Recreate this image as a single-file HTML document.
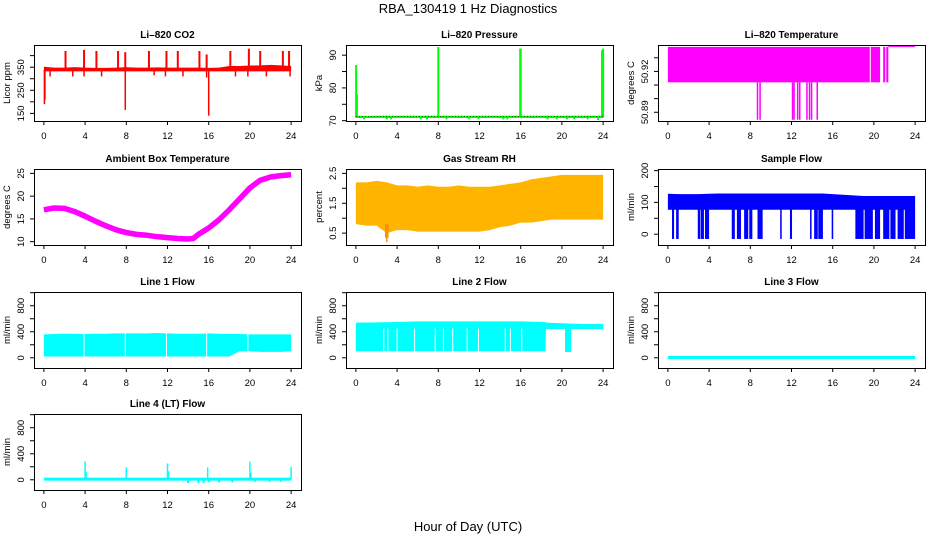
<!DOCTYPE html>
<html><head><meta charset="utf-8">
<style>
html,body{margin:0;padding:0;background:#fff;}
svg{display:block;font-family:"Liberation Sans",Arial,sans-serif;}
.t{font-size:10px;font-weight:bold;text-anchor:middle;}
.tk{font-size:9.5px;text-anchor:middle;}
.yl{font-size:9.5px;text-anchor:middle;}
</style></head>
<body>
<svg id="chart" width="936" height="540" viewBox="0 0 936 540">
<text x="468" y="13" font-size="13" text-anchor="middle">RBA_130419  1 Hz Diagnostics</text>
<text x="468" y="531" font-size="13" text-anchor="middle">Hour of Day (UTC)</text>
<g id="panels"></g>
</svg>
<script>
// ---------- data ----------
const xTicks = [0,4,8,12,16,20,24];
const hours = [0,1,2,3,4,5,6,7,8,9,10,11,12,13,14,15,16,17,18,19,20,21,22,23,24];

const co2Upper = [352,348,348,350,348,347,347,348,350,348,348,349,348,348,348,348,347,348,355,355,357,358,360,358,355];
const co2Lower = [332,332,332,332,332,332,332,332,332,332,332,332,332,332,332,332,332,332,332,332,332,332,332,332,332];
const co2SpikeHours = [2.1,3.9,5.1,7.2,7.9,10.2,11.9,13.0,15.1,15.8,18.1,19.9,21.0,23.2,23.8];
const co2SpikeVals = [420,425,420,420,415,420,420,420,420,405,420,430,420,420,420];
const co2DipHours = [0.05,0.1,0.6,2.8,3.9,5.6,7.9,10.7,11.8,13.5,15.8,16.0,18.6,19.8,21.6,23.9];
const co2DipVals = [190,210,310,310,310,310,165,315,310,310,305,140,310,310,310,310];

const presUpper = [71.5,71.4,71.5,71.5,71.5,71.5,71.5,71.5,71.5,71.5,71.5,71.5,71.5,71.5,71.5,71.5,71.5,71.5,71.5,71.5,71.5,71.5,71.5,71.5,71.5];
const presLower = [70.8,70.8,70.8,70.8,70.8,70.8,70.8,70.8,70.8,70.8,70.8,70.8,70.8,70.8,70.8,70.8,70.8,70.8,70.8,70.8,70.8,70.8,70.8,70.8,70.8];
const presSpikeHours = [0.02,0.1,8.0,15.95,16.0,23.9,24.0];
const presSpikeVals = [87,78,92.5,92,92,91.5,92];
const presDipHours = [0.8,3.0,3.4,6.3,6.9,8.8,11.0,11.9,14.3,14.7,18.6,19.5,20.5,21.2,22.5,23.5];
const presDipVals = [70.4,70.4,70.4,70.4,70.4,70.4,70.4,70.4,70.4,70.4,70.4,70.4,70.4,70.4,70.4,70.2];

const tempBandStart = [0,19.7,20.9,21.2];
const tempBandEnd = [19.6,20.6,21.1,21.4];
const tempBandLow = [50.912,50.912,50.912,50.912];
const tempBandHigh = [50.938,50.938,50.938,50.938];
const tempTailHours = [21.4,24];
const tempTailVals = [50.9382,50.9382];
const tempDipHours = [8.7,8.95,12.1,12.25,12.6,12.8,13.5,13.75,13.95,14.5];
const tempDipVals = [50.8845,50.8845,50.8845,50.8845,50.8845,50.8845,50.8845,50.8845,50.8845,50.8845];

const ambHours = [0,1,2,3,4,5,6,7,8,9,10,11,12,13,14,14.5,15,16,17,18,19,20,21,22,23,24];
const ambVals = [17.0,17.4,17.3,16.6,15.6,14.5,13.5,12.6,12.0,11.6,11.4,11.1,10.9,10.7,10.6,10.7,11.6,13.0,14.8,17.0,19.4,21.8,23.5,24.2,24.5,24.7];

const rhUpper = [2.2,2.2,2.25,2.2,2.1,2.1,2.05,2.1,2.05,2.05,2.1,2.05,2.05,2.05,2.1,2.15,2.2,2.3,2.35,2.4,2.45,2.45,2.45,2.45,2.45];
const rhLower = [0.8,0.75,0.75,0.5,0.6,0.6,0.55,0.55,0.55,0.55,0.55,0.55,0.55,0.6,0.7,0.75,0.85,0.85,0.9,0.95,0.95,0.95,0.95,0.95,0.95];
const rhDipHours = [2.9,3.0,3.1];
const rhDipVals = [0.35,0.2,0.35];

const sfUpper = [127,126,126,126,127,128,128,128,128,128,128,128,128,128,128,128,126,124,122,120,120,120,120,120,120];
const sfLower = [77,77,77,77,77,77,77,77,77,77,77,77,77,77,77,77,77,77,77,77,77,77,77,77,77];
const sfDropStart = [0.4,0.8,2.9,3.2,3.6,6.2,6.7,7.4,7.9,8.7,10.9,11.85,13.8,14.2,14.6,15.9,18.2,19.1,20.1,20.9,21.6,22.3,23.0];
const sfDropEnd = [0.6,1.05,3.15,3.5,4.0,6.5,7.1,7.8,8.2,9.2,11.05,12.05,13.95,14.55,15.05,16.05,19.0,19.9,20.6,21.5,22.1,22.9,24.0];
const sfDropMin = -15;

const l1Upper = [360,365,370,370,365,370,370,375,375,375,375,380,375,370,370,370,375,370,365,365,360,360,360,360,360];
const l1Lower = [20,20,20,20,20,20,20,20,20,20,20,20,20,20,20,20,20,20,20,100,100,90,90,90,100];
const l1GapHours = [3.9,7.9,11.9,15.8,19.8];

const l2Hours = [0,2,4,6,8,10,12,14,16,18.4,18.45,20,22,24];
const l2Upper = [540,545,550,560,560,560,560,560,560,550,540,530,520,520];
const l2Lower = [100,100,100,100,100,100,100,100,100,100,440,440,440,440];
const l2DropStart = [20.3];
const l2DropEnd = [20.9];
const l2DropMin = 90;
const l2GapHours = [2.7,3.1,4.0,5.7,7.7,8.5,9.4,10.8,11.9,14.5,15.0,16.1];

const l3Hours = [0,24];
const l3Vals = [5,5];

const l4Hours = [0,24];
const l4Vals = [10,10];
const l4SpikeHours = [4.0,4.1,8.0,12.0,12.1,15.9,20.0,20.1,24.0];
const l4SpikeVals = [280,120,190,250,130,190,280,110,200];
const l4DipHours = [14.0,15.0,15.5,16.0,17.0,18.3,20.5,21.9,23.0];
const l4DipVals = [-50,-50,-50,-40,-40,-40,-30,-30,-30];

// ---------- layout ----------
const NS = 'http://www.w3.org/2000/svg';
const colLeft = [34,346,658];
const rowTop = [45,169,292,414];
const W = 267, H = 76;
const root = document.getElementById('panels');

function mk(parent, tag, attrs, name){
  const el = document.createElementNS(NS, tag);
  for (const k in attrs) el.setAttribute(k, attrs[k]);
  
  
  parent.appendChild(el);
  return el;
}

function panel(id, col, row, title, ylab, ymin, ymax, yticks, ylabels){
  const L = colLeft[col], T = rowTop[row];
  const g = mk(root, 'g', {}, id + '-panel');
  const p = {g, L, T,
    sx: h => L + (h + 0.96) / 25.92 * W,
    sy: v => T + (ymax - v) / (ymax - ymin) * H};
  const t = mk(g, 'text', {x: L + W/2, y: T - 7, class: 't'}, id + '-title');
  t.textContent = title;
  const clipId = 'clip-' + id;
  const cp = mk(g, 'clipPath', {id: clipId}, id + '-clip');
  mk(cp, 'rect', {x: L, y: T, width: W, height: H}, id + '-clip-rect');
  p.plot = mk(g, 'g', {'clip-path': 'url(#' + clipId + ')'}, id + '-plot-area');
  xTicks.forEach(h => {
    const x = p.sx(h);
    mk(g, 'line', {x1: x, x2: x, y1: T + H, y2: T + H + 4, stroke: '#000'}, id + '-x-tick');
    const lb = mk(g, 'text', {x: x, y: T + H + 18, class: 'tk'}, id + '-x-tick-label');
    lb.textContent = h;
  });
  mk(g, 'line', {x1: p.sx(0), x2: p.sx(24), y1: T + H + 0.5, y2: T + H + 0.5, stroke: '#000'}, id + '-x-axis');
  yticks.forEach((v, i) => {
    const y = p.sy(v);
    mk(g, 'line', {x1: L - 4, x2: L, y1: y, y2: y, stroke: '#000'}, id + '-y-tick');
    if (ylabels[i] !== '') {
      const lb = mk(g, 'text', {x: L - 10, y: y, class: 'tk', transform: 'rotate(-90 ' + (L - 10) + ' ' + y + ')'}, id + '-y-tick-label');
      lb.textContent = ylabels[i];
    }
  });
  const yl = mk(g, 'text', {x: L - 24, y: T + H/2, class: 'yl', transform: 'rotate(-90 ' + (L - 24) + ' ' + (T + H/2) + ')'}, id + '-y-axis-title');
  yl.textContent = ylab;
  return p;
}

function finishBox(p, id){
  mk(p.g, 'rect', {x: p.L + 0.5, y: p.T + 0.5, width: W, height: H, fill: 'none', stroke: '#000'}, id + '-plot-box');
}

function band(p, xs, up, lo, fill, name){
  let d = '';
  xs.forEach((h, i) => { d += (i ? 'L' : 'M') + p.sx(h) + ',' + p.sy(up[i]); });
  for (let i = xs.length - 1; i >= 0; i--) d += 'L' + p.sx(xs[i]) + ',' + p.sy(lo[i]);
  mk(p.plot, 'path', {d: d + 'Z', fill: fill}, name);
}
function vlines(p, xs, from, tos, color, w, name){
  xs.forEach((h, i) => {
    const f = Array.isArray(from) ? from[i] : from;
    mk(p.plot, 'line', {x1: p.sx(h), x2: p.sx(h), y1: p.sy(f), y2: p.sy(tos[i]), stroke: color, 'stroke-width': w}, name);
  });
}
function rects(p, s, e, lo, hi, color, name){
  s.forEach((h, i) => {
    const l = Array.isArray(lo) ? lo[i] : lo, u = Array.isArray(hi) ? hi[i] : hi;
    const x = p.sx(h), y = p.sy(u);
    mk(p.plot, 'rect', {x: x, y: y, width: Math.max(1, p.sx(e[i]) - x), height: p.sy(l) - y, fill: color}, name);
  });
}
function polyline(p, xs, ys, color, w, name, dash){
  const pts = xs.map((h, i) => p.sx(h) + ',' + p.sy(ys[i])).join(' ');
  const a = {points: pts, fill: 'none', stroke: color, 'stroke-width': w, 'stroke-linejoin': 'round'};
  if (dash) a['stroke-dasharray'] = dash;
  mk(p.plot, 'polyline', a, name);
}
function gaps(p, xs, lo, hi, name){
  xs.forEach(h => {
    mk(p.plot, 'line', {x1: p.sx(h), x2: p.sx(h), y1: p.sy(hi), y2: p.sy(lo), stroke: '#fff', 'stroke-width': 1}, name);
  });
}

const flowTicks = [0,200,400,600,800,1000];
const flowLabels = ['0','','400','','800',''];

// CO2
let p = panel('co2', 0, 0, 'Li\u2013820 CO2', 'Licor ppm', 117, 446, [150,200,250,300,350,400], ['150','','250','','350','']);
band(p, hours, co2Upper, co2Lower, '#ff0000', 'co2-band');
vlines(p, co2SpikeHours, 338, co2SpikeVals, '#ff0000', 2, 'co2-spike');
vlines(p, co2DipHours, 338, co2DipVals, '#ff0000', 1.5, 'co2-dip');
finishBox(p, 'co2');

// Pressure
p = panel('pressure', 1, 0, 'Li\u2013820 Pressure', 'kPa', 69.9, 93.1, [70,75,80,85,90], ['70','','80','','90']);
band(p, hours, presUpper, presLower, '#00ff00', 'pressure-band');
vlines(p, presDipHours, 71, presDipVals, '#00ff00', 2, 'pressure-dip');
vlines(p, presSpikeHours, 71, presSpikeVals, '#00ff00', 2, 'pressure-spike');
polyline(p, [0,24], [71.3,71.3], '#000', 0.6, 'pressure-baseline-dots', '1 2');
finishBox(p, 'pressure');

// Temperature
p = panel('temperature', 2, 0, 'Li\u2013820 Temperature', 'degrees C', 50.8836, 50.9394, [50.89,50.90,50.91,50.92,50.93], ['50.89','','','50.92','']);
rects(p, tempBandStart, tempBandEnd, tempBandLow, tempBandHigh, '#ff00ff', 'temperature-band');
polyline(p, tempTailHours, tempTailVals, '#ff00ff', 1, 'temperature-tail');
vlines(p, tempDipHours, 50.912, tempDipVals, '#ff00ff', 1.5, 'temperature-dip');
finishBox(p, 'temperature');

// Ambient
p = panel('ambient', 0, 1, 'Ambient Box Temperature', 'degrees C', 9.27, 25.96, [10,15,20,25], ['10','15','20','25']);
polyline(p, ambHours, ambVals, '#ff00ff', 5.5, 'ambient-temperature-line');
finishBox(p, 'ambient');

// RH
p = panel('rh', 1, 1, 'Gas Stream RH', 'percent', 0.103, 2.646, [0.5,1.0,1.5,2.0,2.5], ['0.5','','1.5','','2.5']);
band(p, hours, rhUpper, rhLower, '#ffb400', 'rh-band');
vlines(p, rhDipHours, 0.8, rhDipVals, '#ff9000', 1.5, 'rh-dip');
finishBox(p, 'rh');

// Sample flow
p = panel('sample-flow', 2, 1, 'Sample Flow', 'ml/min', -34, 205, [0,50,100,150,200], ['0','','100','','200']);
band(p, hours, sfUpper, sfLower, '#0000ff', 'sample-flow-band');
rects(p, sfDropStart, sfDropEnd, sfDropMin, 80, '#0000ff', 'sample-flow-drop');
finishBox(p, 'sample-flow');

// Line 1
p = panel('line1', 0, 2, 'Line 1 Flow', 'ml/min', -157, 1011, flowTicks, flowLabels);
band(p, hours, l1Upper, l1Lower, '#00ffff', 'line1-band');
gaps(p, l1GapHours, 20, 390, 'line1-gap');
finishBox(p, 'line1');

// Line 2
p = panel('line2', 1, 2, 'Line 2 Flow', 'ml/min', -157, 1011, flowTicks, flowLabels);
band(p, l2Hours, l2Upper, l2Lower, '#00ffff', 'line2-band');
rects(p, l2DropStart, l2DropEnd, l2DropMin, 450, '#00ffff', 'line2-drop');
gaps(p, l2GapHours, 100, 450, 'line2-gap');
finishBox(p, 'line2');

// Line 3
p = panel('line3', 2, 2, 'Line 3 Flow', 'ml/min', -157, 1011, flowTicks, flowLabels);
polyline(p, l3Hours, l3Vals, '#00ffff', 3, 'line3-line');
finishBox(p, 'line3');

// Line 4
p = panel('line4', 0, 3, 'Line 4 (LT) Flow', 'ml/min', -157, 1011, flowTicks, flowLabels);
polyline(p, l4Hours, l4Vals, '#00ffff', 3, 'line4-line');
vlines(p, l4SpikeHours, 10, l4SpikeVals, '#00ffff', 1.5, 'line4-spike');
vlines(p, l4DipHours, 10, l4DipVals, '#00ffff', 2, 'line4-dip');
finishBox(p, 'line4');
</script>
</body></html>
